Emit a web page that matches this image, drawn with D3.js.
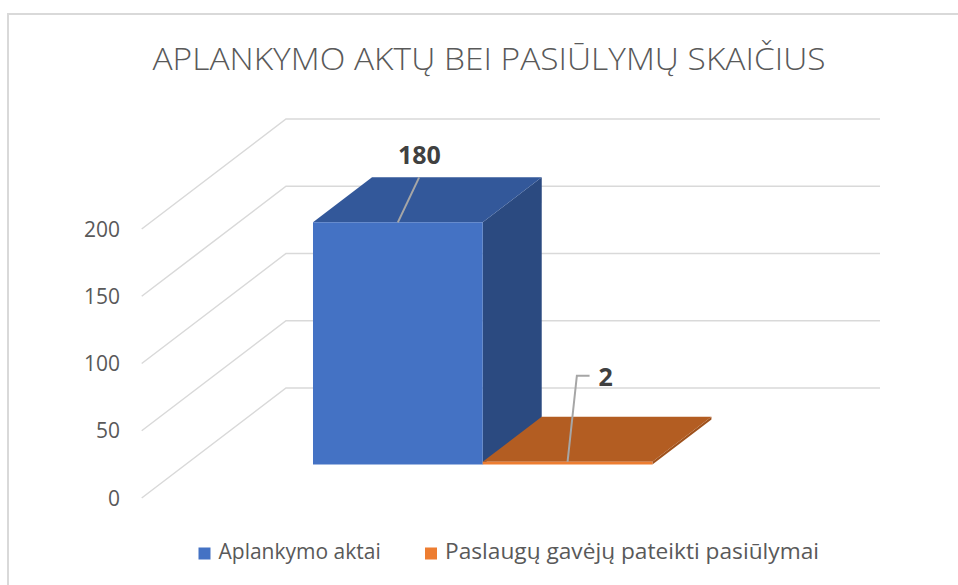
<!DOCTYPE html>
<html>
<head>
<meta charset="utf-8">
<script src="https://cdn.jsdelivr.net/npm/d3@7"></script>
<style>
  body { margin: 0; background: #fff; }
  svg text { font-family: "Open Sans", "Noto Sans", sans-serif; }
</style>
</head>
<body>
<div class="chart"></div>
<script>
const width = 958
const height = 585

// data
const title = 'APLANKYMO AKTŲ BEI PASIŪLYMŲ SKAIČIUS'
const categories = ['Rodiklis']
const seriesNames = ['Aplankymo aktai', 'Paslaugų gavėjų pateikti pasiūlymai']
const seriesValues = [180, 2]
const yTicks = [0, 50, 100, 150, 200]

const seriesColors = [
    { front: '#4472C4', top: '#33589A', side: '#2B4A80' },
    { front: '#ED7D31', top: '#B35D22', side: '#9E511C' }
]

// oblique 3d layout: floor front edge x span and the depth vector
const floorX0 = 141.7
const floorX1 = 735.7
const depthX = 144.3
const depthY = -110
const zFront = 0.305
const zBack = 0.714

const svg = d3.select('.chart').append('svg').attr('width', width).attr('height', height)

// chart border (right / bottom edges fall outside the view)
svg.append('rect')
    .attr('x', 8).attr('y', 14)
    .attr('width', 980).attr('height', 600)
    .attr('fill', '#fff')
    .attr('stroke', '#d9d9d9')
    .attr('stroke-width', 2)

let y = d3.scaleLinear().domain([0, 200]).range([498, 229])

let xCat = d3.scaleBand().domain(categories).range([floorX0, floorX1])
    .paddingInner(0).paddingOuter(0.375)
let xSeries = d3.scaleBand().domain(seriesNames).range([0, xCat.bandwidth()]).padding(0)

function project(x, v, z) {
    return [x + depthX * z, y(v) + depthY * z]
}

// gridlines: left wall diagonal + back wall horizontal
let grid = svg.append('g').attr('class', 'grid')
grid.selectAll('path')
    .data(yTicks)
    .enter()
    .append('path')
    .attr('d', d => d3.line()([project(floorX0, d, 0), project(floorX0, d, 1), project(floorX1, d, 1)]))
    .attr('fill', 'none')
    .attr('stroke', '#d9d9d9')
    .attr('stroke-width', 1.5)

svg.append('g').selectAll('text')
    .data(yTicks)
    .enter()
    .append('text')
    .attr('x', 120)
    .attr('y', d => y(d) + 7.5)
    .attr('text-anchor', 'end')
    .attr('font-size', 21)
    .attr('fill', '#595959')
    .text(d => d)

// bars
let bars = seriesNames.map((name, i) => ({
    name: name,
    value: seriesValues[i],
    x0: xCat(categories[0]) + xSeries(name),
    w: xSeries.bandwidth(),
    color: seriesColors[i]
}))

let barG = svg.append('g').attr('class', 'bars')
bars.forEach(function (b) {
    const g = barG.append('g')
    const x1 = b.x0 + b.w
    const front = [project(b.x0, 0, zFront), project(x1, 0, zFront), project(x1, b.value, zFront), project(b.x0, b.value, zFront)]
    const top = [project(b.x0, b.value, zFront), project(x1, b.value, zFront), project(x1, b.value, zBack), project(b.x0, b.value, zBack)]
    const side = [project(x1, 0, zFront), project(x1, 0, zBack), project(x1, b.value, zBack), project(x1, b.value, zFront)]
    g.append('path').attr('d', d3.line()(side) + 'Z').attr('fill', b.color.side)
    g.append('path').attr('d', d3.line()(top) + 'Z').attr('fill', b.color.top)
    g.append('path').attr('d', d3.line()(front) + 'Z').attr('fill', b.color.front)
})

// data labels with leader lines (offsets from the bar's front top centre)
const labelLayout = [
    { anchor: 'middle', lx: 21.5, ly: -58, leader: [[21.3, -45], [0, 0]] },
    { anchor: 'start', lx: 31, ly: -76, leader: [[22, -86], [9.3, -86], [0, 0]] }
]

bars.forEach(function (b, i) {
    const p = project(b.x0 + b.w / 2, b.value, zFront)
    const L = labelLayout[i]
    svg.append('path')
        .attr('d', d3.line()(L.leader.map(o => [p[0] + o[0], p[1] + o[1]])))
        .attr('fill', 'none')
        .attr('stroke', '#a6a6a6')
        .attr('stroke-width', 2)
    svg.append('text')
        .attr('x', p[0] + L.lx)
        .attr('y', p[1] + L.ly)
        .attr('text-anchor', L.anchor)
        .attr('font-size', 25)
        .attr('font-weight', 'bold')
        .attr('fill', '#404040')
        .text(b.value)
})

// title
let titleText = svg.append('text')
    .attr('x', 489)
    .attr('y', 69.5)
    .attr('text-anchor', 'middle')
    .attr('font-size', 31)
    .attr('font-weight', 300)
    .attr('fill', '#595959')
    .text(title)
fitText(titleText, 673)

// legend
const legendX = [198.5, 425]
let legend = svg.append('g').attr('class', 'legend')
let legendItems = legend.selectAll('.legend-item')
    .data(bars)
    .enter()
    .append('g')
    .attr('class', 'legend-item')
    .attr('transform', (d, i) => 'translate(' + legendX[i] + ',547.5)')

legendItems.append('rect')
    .attr('width', 12).attr('height', 12)
    .attr('fill', d => d.color.front)

legendItems.append('text')
    .attr('x', 20)
    .attr('y', 11.8)
    .attr('font-size', 21)
    .attr('fill', '#595959')
    .text(d => d.name)
    .each(function (d, i) { fitText(d3.select(this), [161, 374][i]) })

function fitText(sel, target) {
    const len = sel.node().getComputedTextLength()
    if (Math.abs(len - target) / target > 0.02) {
        sel.attr('textLength', target).attr('lengthAdjust', 'spacingAndGlyphs')
    }
}
</script>
</body>
</html>
